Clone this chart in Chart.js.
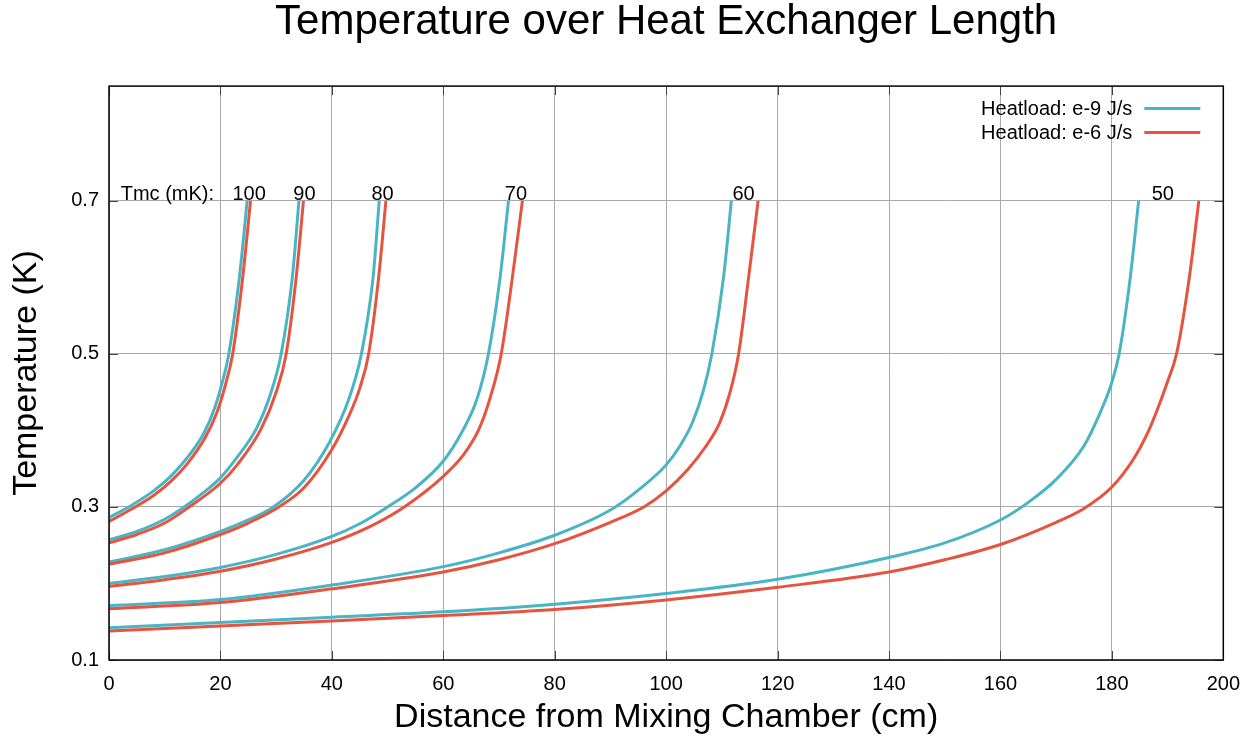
<!DOCTYPE html>
<html>
<head>
<meta charset="utf-8">
<title>Temperature over Heat Exchanger Length</title>
<script src="https://cdn.jsdelivr.net/npm/chart.js@4.4.1/dist/chart.umd.min.js"></script>
<style>
  html, body { margin: 0; padding: 0; background: #fff; }
  #wrap { width: 1252px; height: 738px; }
</style>
</head>
<body>
<div id="wrap"><canvas id="chart" width="1252" height="738"></canvas></div>
<script>
// Mixing chamber temperatures (mK) labelling each pair of curves
const tmcValues = ['100', '90', '80', '70', '60', '50'];
const heatloads = ['Heatload: e-9 J/s', 'Heatload: e-6 J/s'];

// [distance (cm), temperature (K)], heatload e-9 J/s
const e9_100 = [[0, 0.286], [4, 0.302], [8, 0.321], [11.2, 0.341], [14, 0.364], [17, 0.396], [19, 0.430], [20.3, 0.462], [21.5, 0.500], [23.4, 0.600], [24.8, 0.700]];
const e9_90 = [[0, 0.257], [5, 0.268], [10, 0.284], [13.3, 0.299], [17, 0.319], [20, 0.338], [23, 0.365], [26.5, 0.403], [29, 0.448], [30.9, 0.500], [32.9, 0.600], [34.1, 0.700]];
const e9_80 = [[0, 0.228], [10, 0.244], [20, 0.268], [25, 0.283], [29.5, 0.300], [35, 0.335], [39.6, 0.385], [43, 0.440], [45.3, 0.500], [47.4, 0.600], [48.5, 0.700]];
const e9_70 = [[0, 0.200], [10, 0.209], [20, 0.221], [30, 0.238], [40, 0.2615], [45, 0.278], [50, 0.300], [55, 0.325], [60, 0.360], [63.5, 0.400], [66, 0.440], [68.1, 0.500], [70.2, 0.600], [71.7, 0.700]];
const e9_60 = [[0, 0.171], [20, 0.179], [40, 0.198], [60, 0.222], [70, 0.240], [80, 0.263], [90, 0.296], [95, 0.322], [100, 0.355], [102.5, 0.380], [104.7, 0.410], [106.6, 0.450], [108.2, 0.500], [110.3, 0.600], [111.7, 0.700]];
const e9_50 = [[0, 0.142], [20, 0.149], [40, 0.156], [60, 0.163], [80, 0.173], [100, 0.187], [120, 0.2055], [140, 0.234], [150, 0.253], [160, 0.283], [165, 0.306], [170, 0.336], [175, 0.380], [178, 0.425], [180, 0.463], [181.3, 0.500], [183.3, 0.600], [184.8, 0.700]];

// [distance (cm), temperature (K)], heatload e-6 J/s
const e6_100 = [[0, 0.281], [4, 0.297], [8, 0.315], [11.2, 0.334], [14, 0.356], [17.3, 0.391], [19.4, 0.424], [20.8, 0.457], [22.2, 0.500], [24.0, 0.600], [25.4, 0.700]];
const e6_90 = [[0, 0.253], [5, 0.264], [10, 0.279], [14.2, 0.299], [20, 0.331], [23, 0.355], [27.3, 0.402], [30, 0.450], [31.8, 0.500], [33.6, 0.600], [34.9, 0.700]];
const e6_80 = [[0, 0.225], [10, 0.240], [20, 0.264], [25, 0.279], [30.5, 0.300], [35, 0.325], [40, 0.375], [43, 0.418], [45, 0.455], [46.6, 0.500], [48.4, 0.600], [49.7, 0.700]];
const e6_70 = [[0, 0.196], [10, 0.205], [20, 0.216], [30, 0.232], [40, 0.2537], [47, 0.275], [53, 0.300], [60, 0.340], [63.5, 0.367], [66.3, 0.400], [68.3, 0.440], [70.4, 0.500], [72.4, 0.600], [74.2, 0.700]];
const e6_60 = [[0, 0.167], [20, 0.175], [40, 0.193], [60, 0.215], [70, 0.231], [80, 0.252], [90, 0.280], [96, 0.300], [100, 0.321], [104, 0.350], [107, 0.378], [109.6, 0.410], [111.4, 0.448], [113, 0.500], [114.8, 0.600], [116.5, 0.700]];
const e6_50 = [[0, 0.138], [20, 0.1445], [40, 0.151], [60, 0.158], [80, 0.166], [100, 0.1785], [120, 0.195], [140, 0.215], [150, 0.231], [160, 0.251], [170, 0.280], [175, 0.298], [180, 0.326], [184, 0.364], [186.5, 0.398], [188.3, 0.430], [190, 0.464], [191.6, 0.500], [193.9, 0.600], [195.6, 0.700]];

const lowLoadCurves = [e9_100, e9_90, e9_80, e9_70, e9_60, e9_50];
const highLoadCurves = [e6_100, e6_90, e6_80, e6_70, e6_60, e6_50];

// Axis ticks
const xTicks = [0, 20, 40, 60, 80, 100, 120, 140, 160, 180, 200];
const yTicks = [0.1, 0.3, 0.5, 0.7];

// Where the Tmc labels sit along the top (cm)
const tmcLabelDist = [25.15, 35.07, 49.1, 73.04, 113.9, 189.15];
const tmcCaptionDist = 2.1;

const FONT = "'Liberation Sans', Arial, Helvetica, sans-serif";
const colors = ['#49b5c4', '#e6533f'];

const toPoints = pairs => pairs.map(([x, y]) => ({ x, y }));

const datasets = [];
tmcValues.forEach((tmc, i) => {
  [lowLoadCurves[i], highLoadCurves[i]].forEach((curve, k) => {
    datasets.push({
      label: heatloads[k],
      data: toPoints(curve),
      borderColor: colors[k],
      backgroundColor: colors[k],
      borderWidth: 3,
      pointRadius: 0,
      fill: false,
      cubicInterpolationMode: 'monotone',
      order: k === 0 ? 2 : 1   // e-6 curves sit on top
    });
  });
});

// Gnuplot-like frame: border, inward ticks, curve labels and key
const gnuplotFrame = {
  id: 'gnuplotFrame',
  afterDatasetsDraw(chart) {
    const { ctx, chartArea: a, scales: { x, y } } = chart;
    const tickLen = 9;
    ctx.save();

    // inward tick marks on all four sides
    ctx.strokeStyle = '#444';
    ctx.lineWidth = 1;
    ctx.beginPath();
    xTicks.forEach(v => {
      const px = Math.round(x.getPixelForValue(v)) + 0.5;
      ctx.moveTo(px, a.bottom); ctx.lineTo(px, a.bottom - tickLen);
      ctx.moveTo(px, a.top); ctx.lineTo(px, a.top + tickLen);
    });
    yTicks.forEach(v => {
      const py = Math.round(y.getPixelForValue(v)) + 0.5;
      ctx.moveTo(a.left, py); ctx.lineTo(a.left + tickLen, py);
      ctx.moveTo(a.right, py); ctx.lineTo(a.right - tickLen, py);
    });
    ctx.stroke();

    // border
    ctx.strokeStyle = '#000';
    ctx.lineWidth = 1.5;
    ctx.strokeRect(a.left, a.top, a.right - a.left, a.bottom - a.top);

    // Tmc labels above the 0.7 K line
    ctx.fillStyle = '#000';
    ctx.font = '20px ' + FONT;
    ctx.textBaseline = 'alphabetic';
    const labelY = y.getPixelForValue(0.7) - 1;
    ctx.textAlign = 'left';
    ctx.fillText('Tmc (mK):', x.getPixelForValue(tmcCaptionDist), labelY);
    ctx.textAlign = 'center';
    tmcValues.forEach((t, i) => {
      ctx.fillText(t, x.getPixelForValue(tmcLabelDist[i]), labelY);
    });

    // key, top right inside the plot
    ctx.textAlign = 'right';
    ctx.textBaseline = 'middle';
    heatloads.forEach((label, k) => {
      const rowY = a.top + 22.5 + k * 24;
      ctx.fillStyle = '#000';
      ctx.fillText(label, a.right - 91, rowY + 1);
      ctx.strokeStyle = colors[k];
      ctx.lineWidth = 3;
      ctx.beginPath();
      ctx.moveTo(a.right - 79, rowY);
      ctx.lineTo(a.right - 23, rowY);
      ctx.stroke();
    });

    ctx.restore();
  }
};

new Chart(document.getElementById('chart'), {
  type: 'line',
  data: { datasets },
  plugins: [gnuplotFrame],
  options: {
    responsive: false,
    animation: false,
    layout: { padding: { top: 0, right: 28, bottom: 0, left: 0 } },
    plugins: {
      legend: { display: false },
      tooltip: { enabled: false },
      title: {
        display: true,
        fullSize: false,
        text: 'Temperature over Heat Exchanger Length',
        color: '#000',
        font: { family: FONT, size: 42, weight: 'normal', lineHeight: 1.05 },
        padding: { top: 0, bottom: 42 }
      }
    },
    scales: {
      x: {
        type: 'linear',
        min: 0,
        max: 200,
        afterFit: s => { s.height = 78; },
        afterBuildTicks: s => { s.ticks = xTicks.map(v => ({ value: v })); },
        ticks: { color: '#000', padding: 12, font: { family: FONT, size: 20 } },
        grid: { color: '#aaaaaa', lineWidth: 1, drawTicks: false },
        border: { display: false },
        title: {
          display: true,
          text: 'Distance from Mixing Chamber (cm)',
          color: '#000',
          font: { family: FONT, size: 34 },
          padding: { top: 0, bottom: 0 }
        }
      },
      y: {
        type: 'linear',
        min: 0.1,
        max: 0.85,
        afterFit: s => { s.width = 109; },
        afterBuildTicks: s => { s.ticks = yTicks.map(v => ({ value: v })); },
        ticks: {
          color: '#000',
          padding: 10,
          font: { family: FONT, size: 20 },
          callback: v => v.toFixed(1)
        },
        grid: { color: '#aaaaaa', lineWidth: 1, drawTicks: false },
        border: { display: false },
        title: {
          display: true,
          text: 'Temperature (K)',
          color: '#000',
          font: { family: FONT, size: 34 },
          padding: { top: 6, bottom: 0 }
        }
      }
    }
  }
});
</script>
</body>
</html>
